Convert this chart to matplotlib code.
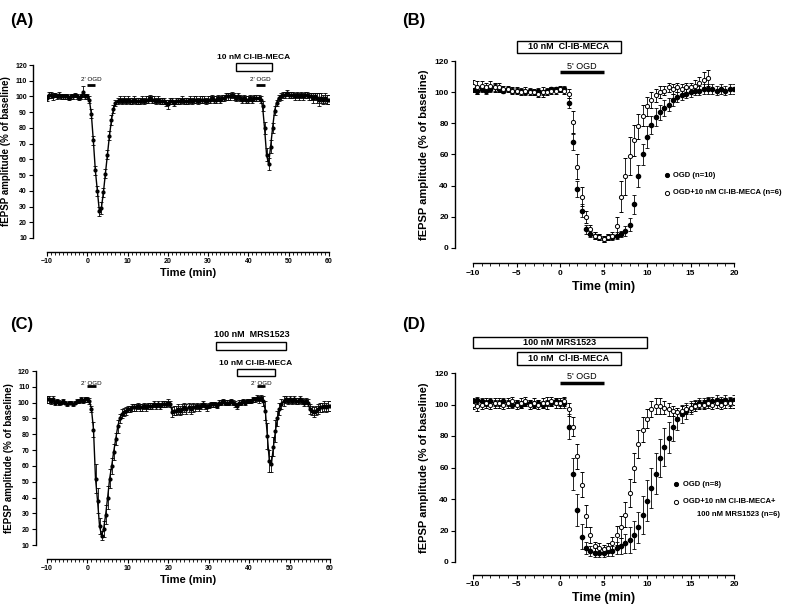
import numpy as np
import matplotlib
matplotlib.use("Agg")
import matplotlib.pyplot as plt
from matplotlib.patches import Rectangle

plt.rcParams['font.family'] = ['Liberation Sans', 'DejaVu Sans']
plt.rcParams['font.weight'] = 'bold'

# ---- data (A, C): -10..60 min, every 0.5 min ----
t_long = np.arange(-10, 60.01, 0.5)

a_mean = [99, 101, 101, 100, 101, 100, 101, 100, 100, 100,
          100, 99, 100, 100, 101, 100, 99, 100, 103, 100,
          100, 98, 89, 72, 53, 40, 27, 29, 39, 51,
          63, 75, 85, 92, 96, 97, 98, 97, 98, 97,
          98, 97, 97, 98, 97, 97, 97, 98, 97, 98,
          98, 99, 98, 98, 97, 98, 97, 97, 97, 96,
          95, 97, 97, 96, 97, 97, 97, 98, 97, 97,
          97, 98, 97, 98, 98, 97, 98, 98, 98, 97,
          98, 98, 99, 98, 98, 99, 98, 99, 99, 100,
          100, 100, 101, 100, 99, 100, 99, 98, 99, 98,
          98, 99, 98, 99, 99, 99, 98, 94, 80, 63,
          57, 68, 80, 91, 96, 99, 100, 101, 101, 102,
          101, 101, 101, 100, 101, 100, 101, 100, 101, 101,
          100, 100, 99, 100, 99, 98, 99, 98, 99, 98,
          98]
a_sem = [2, 2, 2, 2, 1.5, 1.5, 2, 1.5, 1.5, 1.5,
         1.5, 1.5, 1.5, 1.5, 1.5, 1.5, 1.5, 1.5, 3.5, 1.5,
         1.5, 2, 3, 3, 3, 3, 3, 4, 3, 3,
         3, 3, 3, 2.5, 2, 2, 2, 2, 2, 2,
         2, 2, 2, 2, 2, 2, 2, 2, 2, 2,
         2, 2, 2, 2, 2, 2, 2, 2, 2, 2,
         3, 2, 2, 2, 2, 2, 2, 2, 2, 2,
         2, 2, 2, 2, 2, 2, 2, 2, 2, 2,
         2, 2, 2, 2, 2, 2, 2, 2, 2, 2,
         2, 2, 2, 2, 2, 2, 2, 2, 2, 2,
         2, 2, 2, 2, 2, 2, 2, 3, 4, 4,
         4, 4, 3, 3, 2, 2, 2, 2, 2, 2,
         2, 2, 2, 2, 2, 2, 2, 2, 2, 2,
         2, 2, 3, 2, 3, 4, 3, 3, 3, 3,
         3]

c_mean = [102, 102, 101, 102, 100, 101, 100, 100, 101, 100,
          99, 100, 100, 99, 100, 101, 101, 102, 101, 102,
          102, 101, 96, 83, 52, 38, 22, 16, 20, 29,
          40, 52, 60, 69, 77, 85, 90, 93, 94, 95,
          96, 96, 97, 97, 97, 98, 97, 97, 98, 97,
          98, 98, 98, 99, 98, 99, 98, 99, 99, 99,
          100, 99, 94, 95, 95, 96, 95, 96, 97, 96,
          97, 96, 97, 97, 98, 97, 98, 99, 98, 97,
          98, 99, 99, 99, 98, 100, 100, 101, 100, 100,
          100, 101, 100, 99, 98, 100, 100, 101, 100, 101,
          101, 101, 102, 102, 103, 102, 103, 101, 95, 79,
          63, 61, 72, 82, 90, 96, 99, 101, 102, 101,
          102, 101, 102, 101, 101, 102, 101, 100, 101, 100,
          96, 95, 94, 95, 96, 97, 97, 98, 97, 98,
          98]
c_sem = [2, 2, 2, 2, 1.5, 1.5, 1.5, 1, 1, 1,
         1, 1, 1, 1, 1, 1, 1, 1.5, 1.5, 1.5,
         1.5, 2, 2, 5, 9, 8, 5, 3, 5, 6,
         7, 6, 5, 5, 4, 4, 3, 3, 2.5, 2.5,
         2, 2, 2, 2, 2, 2, 2, 2, 2, 2,
         2, 2, 2, 2, 2, 2, 2, 2, 2, 2,
         2, 2, 3, 3, 3, 3, 3, 3, 3, 3,
         3, 3, 3, 2, 2, 2, 2, 2, 2, 2,
         1.5, 1.5, 1.5, 1.5, 1.5, 1.5, 1.5, 1.5, 1.5, 1.5,
         1.5, 1.5, 1.5, 2, 2, 1.5, 1.5, 1.5, 1.5, 1.5,
         1.5, 1.5, 1.5, 1.5, 2, 2, 2, 3, 6, 8,
         7, 5, 6, 7, 5, 4, 3, 3, 2, 2,
         2, 2, 2, 2, 2, 2, 2, 2, 2, 2,
         3, 3, 3, 3, 3, 3, 3, 3, 3, 3,
         3]

# ---- data (B, D): -10..20 min, every 0.5 min ----
t_short = np.arange(-10, 20.01, 0.5)

b_ogd = [102, 101, 102, 101, 102, 103, 102, 101, 102, 101,
         101, 101, 100, 101, 100, 101, 100, 101, 102, 102,
         102, 102, 93, 68, 38, 24, 12, 9, 8, 7,
         6, 7, 7, 8, 9, 11, 15, 28, 46, 60,
         71, 79, 84, 87, 90, 92, 95, 97, 98, 99,
         100, 101, 101, 102, 102, 102, 101, 102, 101, 102,
         102]
b_ogd_sem = [2, 2, 2, 2, 2, 2, 2, 1.5, 1.5, 1.5,
             1.5, 1.5, 1.5, 1.5, 1.5, 1.5, 1.5, 1.5, 1.5, 1.5,
             1.5, 2, 3, 5, 5, 4, 3, 2, 2, 2,
             2, 2, 2, 2, 2, 3, 4, 6, 7, 7,
             7, 6, 6, 5, 5, 4, 4, 3, 3, 3,
             3, 3, 3, 3, 3, 3, 3, 3, 3, 3,
             3]
b_meca = [104, 103, 104, 103, 104, 103, 103, 102, 102, 101,
          101, 100, 101, 100, 100, 99, 100, 100, 101, 101,
          102, 101, 99, 81, 52, 33, 20, 12, 8, 7,
          6, 7, 8, 14, 33, 46, 59, 69, 78, 85,
          91, 95, 98, 100, 101, 103, 102, 103, 102, 103,
          103, 104, 106, 108, 109]
b_meca_sem = [4, 4, 3, 3, 3, 3, 3, 2, 2, 2,
              2, 2, 2, 2, 2, 2, 3, 2, 2, 2,
              2, 2, 3, 7, 8, 6, 4, 3, 2, 2,
              2, 2, 2, 6, 10, 12, 12, 10, 8, 7,
              6, 5, 4, 4, 3, 3, 3, 3, 3, 3,
              3, 4, 4, 5, 5]

d_ogd = [102, 103, 102, 101, 102, 101, 101, 102, 101, 100,
         101, 100, 101, 101, 100, 101, 100, 101, 101, 102,
         101, 101, 86, 56, 33, 16, 9, 7, 6, 6,
         6, 7, 7, 9, 10, 12, 14, 17, 22, 30,
         39, 47, 56, 66, 73, 79, 86, 91, 94, 96,
         98, 100, 101, 101, 102, 102, 103, 102, 103, 102,
         103]
d_ogd_sem = [2, 2, 2, 2, 2, 2, 2, 2, 2, 2,
             2, 2, 2, 2, 2, 2, 2, 2, 2, 2,
             2, 3, 8, 10, 10, 8, 4, 3, 3, 3,
             3, 3, 3, 4, 5, 6, 8, 9, 10, 12,
             13, 13, 13, 12, 12, 10, 9, 7, 6, 5,
             4, 3, 3, 3, 3, 3, 3, 3, 3, 3,
             3]
d_meca = [100, 99, 100, 101, 100, 101, 101, 100, 101, 102,
          100, 101, 102, 100, 101, 100, 101, 101, 102, 101,
          101, 102, 97, 86, 67, 49, 29, 17, 10, 9,
          8, 9, 12, 17, 22, 30, 44, 60, 75, 84,
          91, 97, 99, 99, 98, 97, 96, 95, 96, 97,
          98, 99, 100, 100, 101, 100, 101, 100, 101, 101,
          101]
d_meca_sem = [3, 3, 3, 3, 3, 3, 3, 3, 3, 3,
              3, 3, 3, 3, 3, 3, 3, 4, 3, 3,
              3, 3, 4, 6, 8, 8, 7, 5, 3, 3,
              3, 3, 4, 6, 7, 8, 9, 9, 9, 8,
              6, 5, 5, 5, 4, 4, 3, 3, 3, 3,
              3, 3, 3, 3, 3, 3, 3, 3, 3, 3,
              3]

ylabel = 'fEPSP amplitude (% of baseline)'

fig = plt.figure(figsize=(8, 6.09), dpi=100)


def prism_axes(rect, xlim, ylim, xmaj, ymaj, off_l, off_b, tsize):
    ax = fig.add_axes(rect)
    ax.set_xlim(*xlim)
    ax.set_ylim(*ylim)
    for s in ['top', 'right']:
        ax.spines[s].set_visible(False)
    ax.spines['left'].set_position(('outward', off_l))
    ax.spines['bottom'].set_position(('outward', off_b))
    ax.spines['left'].set_linewidth(1.0)
    ax.spines['bottom'].set_linewidth(1.0)
    ax.set_xticks(np.arange(xlim[0], xlim[1] + 0.1, xmaj))
    ax.set_xticks(np.arange(xlim[0], xlim[1] + 0.1, 1), minor=True)
    ax.set_yticks(np.arange(ylim[0], ylim[1] + 0.1, ymaj))
    ax.tick_params(direction='out', length=3, width=0.8, labelsize=tsize, pad=1.5)
    ax.tick_params(which='minor', direction='out', length=2, width=0.6)
    ax.patch.set_visible(False)
    return ax


def bar_box(ax, x0, x1, y0, y1, label, ty, fs):
    ax.add_patch(Rectangle((x0, y0), x1 - x0, y1 - y0, fill=False, lw=1.0,
                           ec='black', clip_on=False))
    ax.text((x0 + x1) / 2, ty, label, ha='center', va='center', fontsize=fs,
            fontweight='bold')


def ogd_bar(ax, x0, x1, y, label, ty, fs, lw):
    ax.plot([x0, x1], [y, y], color='black', lw=lw, clip_on=False,
            solid_capstyle='butt')
    ax.text((x0 + x1) / 2, ty, label, ha='center', va='center', fontsize=fs,
            fontweight='normal')


def key(ax, mx, my, tx, label, fc):
    # one legend row drawn in axes fractions
    ax.plot([mx], [my], ls='none', marker='o', ms=3, mfc=fc, mec='black',
            mew=0.7, transform=ax.transAxes, clip_on=False)
    ax.text(tx, my, label, transform=ax.transAxes, ha='left', va='center',
            fontsize=5.5, fontweight='bold')


# ---------- (A) ----------
axA = prism_axes([47 / 800, 1 - 238 / 609, 282 / 800, 173 / 609],
                 (-10, 60), (10, 120), 10, 10, 10, 10, 5)
axA.errorbar(t_long, a_mean, yerr=a_sem, fmt='-o', color='black', ms=2,
             lw=1.0, elinewidth=0.6, capsize=1.5, capthick=0.6)
axA.set_ylabel(ylabel, fontsize=7, fontweight='bold', labelpad=3)
axA.set_xlabel('Time (min)', fontsize=8, fontweight='bold', labelpad=2)
ogd_bar(axA, 0, 2, 107, "2' OGD", 110.5, 4.5, 2)
ogd_bar(axA, 42, 44, 107, "2' OGD", 110.5, 4.5, 2)
bar_box(axA, 36.8, 45.9, 116.3, 121, '10 nM Cl-IB-MECA', 124.5, 6)

# ---------- (C) ----------
axC = prism_axes([47 / 800, 1 - 545 / 609, 283 / 800, 174 / 609],
                 (-10, 60), (10, 120), 10, 10, 8, 10, 5)
axC.errorbar(t_long, c_mean, yerr=c_sem, fmt='-o', color='black', ms=2,
             lw=1.0, elinewidth=0.6, capsize=1.5, capthick=0.6)
axC.set_ylabel(ylabel, fontsize=7, fontweight='bold', labelpad=3)
axC.set_xlabel('Time (min)', fontsize=8, fontweight='bold', labelpad=2)
ogd_bar(axC, 0, 2, 110.3, "2' OGD", 112, 4.5, 2)
ogd_bar(axC, 42, 44, 110.3, "2' OGD", 112, 4.5, 2)
bar_box(axC, 31.9, 49.2, 133.3, 138.5, '100 nM  MRS1523', 143, 6.5)
bar_box(axC, 37.1, 46.3, 116.6, 121, '10 nM Cl-IB-MECA', 124.6, 6)

# ---------- (B) ----------
axB = prism_axes([473 / 800, 1 - 248 / 609, 261 / 800, 187 / 609],
                 (-10, 20), (0, 120), 5, 20, 13, 11, 6)
axB.errorbar(t_short, b_ogd, yerr=b_ogd_sem, fmt='o', color='black', ms=3,
             mfc='black', elinewidth=0.6, capsize=1.5, capthick=0.6)
axB.errorbar(t_short[:len(b_meca)], b_meca, yerr=b_meca_sem, fmt='o',
             color='black', ms=3, mfc='white', mew=0.7, elinewidth=0.6,
             capsize=1.5, capthick=0.6)
axB.set_ylabel(ylabel, fontsize=8, fontweight='bold', labelpad=4)
axB.set_xlabel('Time (min)', fontsize=9, fontweight='bold', labelpad=3)
ogd_bar(axB, 0, 5, 113, "5' OGD", 116.5, 6.5, 2.5)
bar_box(axB, -5, 7, 125, 133, '10 nM  Cl-IB-MECA', 129, 6.5)
key(axB, 0.742, 0.39, 0.768, 'OGD (n=10)', 'black')
key(axB, 0.742, 0.296, 0.768, 'OGD+10 nM Cl-IB-MECA (n=6)', 'white')

# ---------- (D) ----------
axD = prism_axes([473 / 800, 1 - 562 / 609, 261 / 800, 189 / 609],
                 (-10, 20), (0, 120), 5, 20, 13, 9, 6)
axD.errorbar(t_short, d_ogd, yerr=d_ogd_sem, fmt='o', color='black', ms=3,
             mfc='black', elinewidth=0.6, capsize=1.5, capthick=0.6)
axD.errorbar(t_short, d_meca, yerr=d_meca_sem, fmt='o', color='black', ms=3,
             mfc='white', mew=0.7, elinewidth=0.6, capsize=1.5, capthick=0.6)
axD.set_ylabel(ylabel, fontsize=8, fontweight='bold', labelpad=4)
axD.set_xlabel('Time (min)', fontsize=9, fontweight='bold', labelpad=3)
ogd_bar(axD, 0, 5, 113.4, "5' OGD", 117.5, 6.5, 2.5)
bar_box(axD, -5, 7, 125, 133.5, '10 nM  Cl-IB-MECA', 129.3, 6.5)
bar_box(axD, -10, 10, 136, 143, '100 nM MRS1523', 139.5, 6.5)
key(axD, 0.778, 0.411, 0.805, 'OGD (n=8)', 'black')
key(axD, 0.778, 0.319, 0.805, 'OGD+10 nM Cl-IB-MECA+', 'white')
axD.text(1.176, 0.252, '100 nM MRS1523 (n=6)', transform=axD.transAxes,
         ha='right', va='center', fontsize=5.5, fontweight='bold')

for lab, x, y in [('(A)', 10, 20), ('(B)', 402, 20), ('(C)', 10, 325), ('(D)', 402, 325)]:
    fig.text(x / 800, 1 - y / 609, lab, fontsize=12, fontweight='bold',
             ha='left', va='center')

fig.savefig('out.png', dpi=100)
